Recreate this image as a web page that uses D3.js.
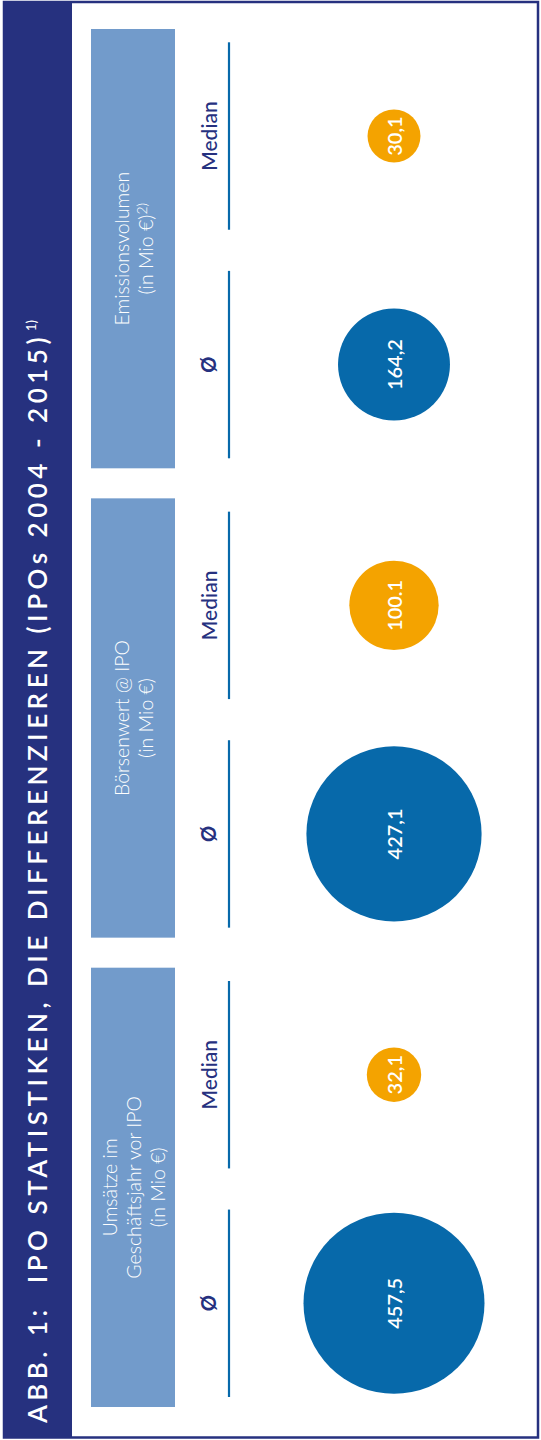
<!DOCTYPE html>
<html>
<head>
<meta charset="utf-8">
<script src="https://cdnjs.cloudflare.com/ajax/libs/d3/7.8.5/d3.min.js"></script>
<style>
  html, body { margin: 0; padding: 0; background: #fff; }
  svg { display: block; font-family: Lato, "Open Sans", sans-serif; }
</style>
</head>
<body>
<div id="chart"></div>
<script>

/*
 * Chart data.
 */

var categories = ['Umsätze', 'Börsenwert', 'Emissionsvolumen'];
var headerLines = [
  ['Umsätze im', 'Geschäftsjahr vor IPO', '(in Mio €)'],
  ['Börsenwert @ IPO', '(in Mio €)'],
  ['Emissionsvolumen', '(in Mio €)']
];
var headerNotes = ['', '', '2)'];
var measures = ['Ø', 'Median'];
var averageValues = [457.5, 427.1, 164.2];
var medianValues = [32.1, 100.1, 30.1];
var averageLabels = ['457,5', '427,1', '164,2'];
var medianLabels = ['32,1', '100.1', '30,1'];

var titleText = 'ABB. 1:  IPO STATISTIKEN, DIE DIFFERENZIEREN (IPOs 2004 - 2015)';
var titleNote = '1)';

/*
 * Colours.
 */

var NAVY = '#26317f';
var HEADER = '#729bcb';
var BLUE = '#0769aa';
var ORANGE = '#f4a300';

var width = 541;
var height = 1440;

var svg = d3.select('#chart').append('svg')
  .attr('width', width)
  .attr('height', height);

// Outer frame and title band.
svg.append('rect')
  .attr('x', 4).attr('y', 2)
  .attr('width', 534).attr('height', 1435.5)
  .attr('fill', 'none')
  .attr('stroke', NAVY)
  .attr('stroke-width', 2.5);

svg.append('rect')
  .attr('x', 4).attr('y', 1)
  .attr('width', 68).attr('height', 1437)
  .attr('fill', NAVY);

// Title, running bottom to top.
var title = svg.append('text')
  .attr('transform', 'translate(47,1423) rotate(-90)')
  .attr('fill', '#fff')
  .attr('font-size', 26)
  .attr('font-weight', 600)
  .style('white-space', 'pre');

var titleMain = title.append('tspan').text(titleText);

// Spread the letters so the title fills the band like the original.
var titleLength = titleMain.node().getComputedTextLength();
titleMain.attr('letter-spacing', (1090 - titleLength) / titleText.length);

title.append('tspan')
  .attr('font-size', 13)
  .attr('font-weight', 400)
  .attr('dy', -11)
  .attr('dx', 2)
  .text(titleNote);

/*
 * Scales: category groups run from the bottom of the page upwards.
 */

var group = d3.scaleBand()
  .domain(categories)
  .range([1407, 29])
  .paddingInner(0.064);

// Offset of a measure, measured upwards from the bottom of its group.
var inner = d3.scaleBand()
  .domain(measures)
  .range([10, 426])
  .paddingInner(0.18);

var radius = d3.scaleSqrt()
  .domain([0, d3.max(averageValues)])
  .range([4.4, 90.5]);

// Centre of a measure along the page.
function measureY(cat, m) {
  return group(cat) + group.bandwidth() - inner(m) - inner.bandwidth() / 2;
}

/*
 * Header boxes.
 */

var groups = svg.selectAll('g.group')
  .data(categories)
  .enter().append('g')
  .attr('class', 'group');

groups.append('rect')
  .attr('x', 91)
  .attr('y', function(d) { return group(d); })
  .attr('width', 84)
  .attr('height', group.bandwidth())
  .attr('fill', HEADER);

groups.each(function(cat, i) {
  var lines = headerLines[i];
  var cy = group(cat) + group.bandwidth() / 2;
  var pitch = 24;
  var x0 = 133 - (lines.length - 1) * pitch / 2;

  var g = d3.select(this);
  lines.forEach(function(line, j) {
    var t = g.append('text')
      .attr('transform', 'translate(' + (x0 + j * pitch) + ',' + cy + ') rotate(-90)')
      .attr('text-anchor', 'middle')
      .attr('dominant-baseline', 'central')
      .attr('fill', '#fff')
      .attr('font-size', 19.5)
      .attr('font-weight', 300);
    t.append('tspan').text(line);
    if (j === lines.length - 1 && headerNotes[i]) {
      t.append('tspan')
        .attr('font-size', 14)
        .attr('dy', -4)
        .text(headerNotes[i]);
    }
  });
});

/*
 * Measure labels and rules.
 */

measures.forEach(function(m) {

  groups.append('line')
    .attr('x1', 229).attr('x2', 229)
    .attr('y1', function(d) { return group(d) + group.bandwidth() - inner(m); })
    .attr('y2', function(d) { return group(d) + group.bandwidth() - inner(m) - inner.bandwidth(); })
    .attr('stroke', BLUE)
    .attr('stroke-width', 2.2);

  groups.append('text')
    .attr('transform', function(d) {
      return 'translate(208,' + measureY(d, m) + ') rotate(-90)';
    })
    .attr('text-anchor', 'middle')
    .attr('dominant-baseline', 'central')
    .attr('fill', NAVY)
    .attr('font-size', m === 'Ø' ? 20 : 21)
    .attr('font-weight', m === 'Ø' ? 700 : 500)
    .text(m);

});

/*
 * Bubbles.
 */

function drawBubbles(values, labels, m, colour) {

  groups.append('circle')
    .attr('cx', 394)
    .attr('cy', function(d, i) { return measureY(d, m); })
    .attr('r', function(d, i) { return radius(values[i]); })
    .attr('fill', colour);

  groups.append('text')
    .attr('transform', function(d) {
      return 'translate(394,' + measureY(d, m) + ') rotate(-90)';
    })
    .attr('text-anchor', 'middle')
    .attr('dominant-baseline', 'central')
    .attr('fill', '#fff')
    .attr('font-size', 20)
    .attr('font-weight', 600)
    .text(function(d, i) { return labels[i]; });
}

drawBubbles(averageValues, averageLabels, 'Ø', BLUE);
drawBubbles(medianValues, medianLabels, 'Median', ORANGE);

</script>
</body>
</html>
